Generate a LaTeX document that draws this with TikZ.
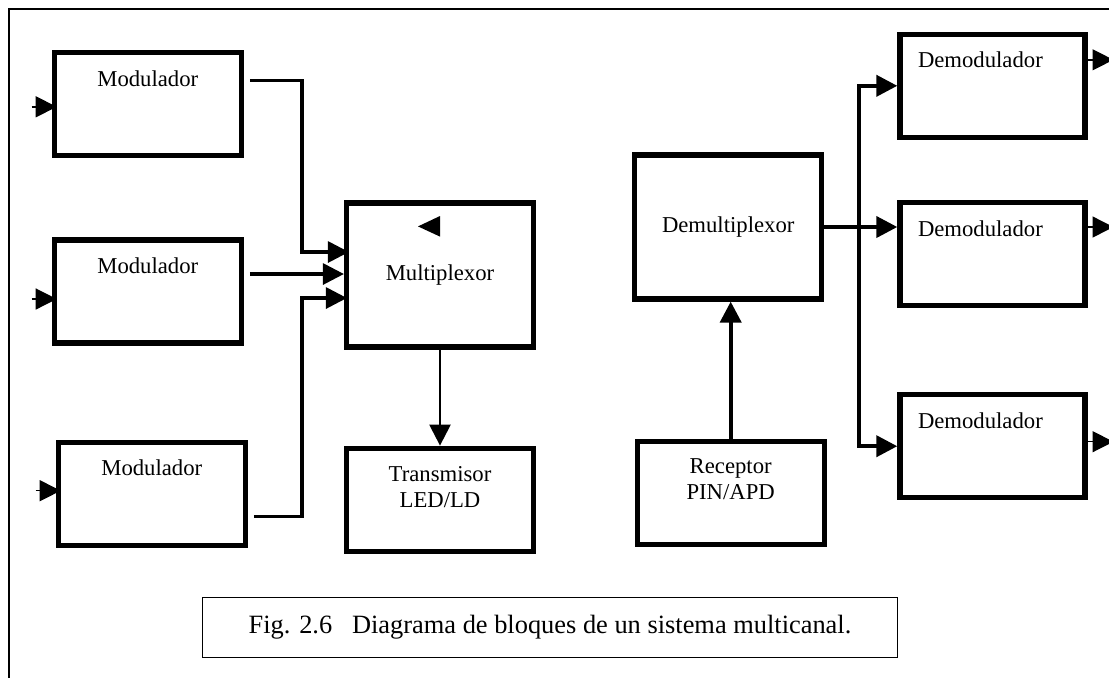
\documentclass[tikz,border=0pt]{standalone}
\usepackage{fontspec}
\setmainfont{Liberation Serif}
\usetikzlibrary{positioning, arrows.meta}
\tikzset{
>={Triangle[length=10.5pt, width=10.5pt]}, % big filled arrow heads
block/.style={draw, line width=2.6pt, minimum width=93.5pt, minimum height=51.5pt, font=\fontsize{11.35}{13}\selectfont}, % the thick boxes
bigblock/.style={block, minimum height=72pt}, % multiplexor and demultiplexor
title/.style={inner sep=0pt, align=center, font=\fontsize{11.35}{13}\selectfont}, % text near the top of a box
wire/.style={->, line width=1.6pt}, % lines between the boxes
signal/.style={->, line width=0.7pt}, % short input and output arrows
}
\begin{document}
\begin{tikzpicture}
    \useasboundingbox (0,0) rectangle (554.5pt,-338.5pt);
    \draw[line width=0.8pt] (4.5pt,-345pt) -- (4.5pt,-4.5pt) -- (560pt,-4.5pt);

    \node[bigblock] (mux) at (220pt,-137.5pt) {Multiplexor};
    \node[block, below=48pt of mux] (tx) {};
    \node[block, left=50pt of mux, yshift=-8.25pt] (m2) {};
    \node[block, above=39.5pt of m2] (m1) {};
    \node[block, below=47pt of m2, xshift=2pt] (m3) {};
    \node[bigblock, right=48pt of mux, yshift=24pt] (dmx) {Demultiplexor};
    \node[block, below=68.5pt of dmx, xshift=1.25pt] (rx) {};
    \node[block, minimum width=92.5pt, right=36.5pt of dmx, yshift=-13.5pt] (d2) {};
    \node[block, minimum width=92.5pt, above=30pt of d2] (d1) {};
    \node[block, minimum width=92.5pt, below=42pt of d2] (d3) {};

    \node[title, below=10pt of m1.north] (m1t) {Modulador};
    \node[title, below=10pt of m2.north] (m2t) {Modulador};
    \node[title, below=10pt of m3.north] (m3t) {Modulador};
    \node[title, below=10pt of tx.north] (txt) {Transmisor\\LED/LD};
    \node[title, below=10pt of rx.north] (rxt) {Receptor\\PIN/APD};
    \node[title, below=10pt of d1.north, xshift=-6pt] (d1t) {Demodulador};
    \node[title, below=10pt of d2.north, xshift=-6pt] (d2t) {Demodulador};
    \node[title, below=10pt of d3.north, xshift=-6pt] (d3t) {Demodulador};

    \node[draw, line width=0.6pt, minimum width=347.5pt, minimum height=30pt,
          font=\fontsize{13.2}{15}\selectfont] (cap) at (275pt,-313.75pt)
          {Fig. 2.6\ \ \ Diagrama de bloques de un sistema multicanal.};

    % free ends of the arrows
    \coordinate[left=10pt of m1.west, yshift=-1.25pt] (i1);
    \coordinate[left=10pt of m2.west, yshift=-3.75pt] (i2);
    \coordinate[left=10pt of m3.west, yshift=1.5pt] (i3);
    \coordinate[right=3pt of m1.east, yshift=11.75pt] (o1);
    \coordinate[right=3pt of m2.east, yshift=8.75pt] (o2);
    \coordinate[right=3pt of m3.east, yshift=-11.5pt] (o3);
    \coordinate[left=21pt of mux.west] (jl);
    \coordinate[right=17.5pt of dmx.east] (jr);
    \coordinate[right=13pt of d1.east, yshift=13pt] (e1);
    \coordinate[right=13pt of d2.east, yshift=13.5pt] (e2);
    \coordinate[right=13pt of d3.east, yshift=2.25pt] (e3);

    \draw[signal, shorten >=-2.5pt] (i1) -- (i1 -| m1.west);
    \draw[signal, shorten >=-2.5pt] (i2) -- (i2 -| m2.west);
    \draw[signal, shorten >=-2.5pt] (i3) -- (i3 -| m3.west);

    \draw[wire, shorten >=-2.5pt] (o1) -- (o1 -| jl) |- ([yshift=11.5pt]mux.west);
    \draw[wire] (o2) -- (o2 -| mux.west);
    \draw[wire, shorten >=-1.5pt] (o3) -- (o3 -| jl) |- ([yshift=-11.5pt]mux.west);
    \draw[->, line width=1.2pt] (mux) -- (tx);
    \fill ([yshift=29.5pt]mux.center) -- ([xshift=-11pt, yshift=24.3pt]mux.center) -- ([yshift=19.2pt]mux.center) -- cycle;

    \draw[wire, line width=2pt] (rx.north) -- (rx.north |- dmx.south);
    \draw[wire, line width=2pt] (dmx.east) -- (dmx.east -| d2.west);
    \draw[<->, line width=2pt] (d1.west) -| (jr) |- (d3.west);

    \draw[signal] (e1 -| d1.east) -- (e1);
    \draw[signal] (e2 -| d2.east) -- (e2);
    \draw[signal] (e3 -| d3.east) -- (e3);
\end{tikzpicture}
\end{document}
